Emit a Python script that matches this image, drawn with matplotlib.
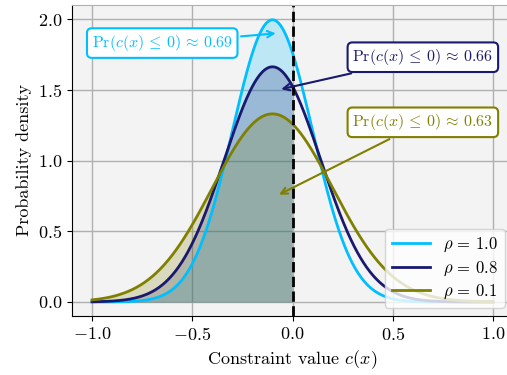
import numpy as np
import matplotlib
matplotlib.use("Agg")
import matplotlib.pyplot as plt

plt.rcParams["font.family"] = "serif"
plt.rcParams["font.serif"] = ["cmr10"]
plt.rcParams["mathtext.fontset"] = "cm"
plt.rcParams["axes.formatter.use_mathtext"] = True
plt.rcParams["font.size"] = 13

# distribution parameters
rho_labels = ["1.0", "0.8", "0.1"]
means = [-0.1, -0.1, -0.1]
stds = [0.2, 0.24, 0.3]
probs = ["0.69", "0.66", "0.63"]
colors = ["#00BFFF", "#191970", "#808000"]

# annotation positions (text, arrow tip) in data coords
text_pos = [(-0.65, 1.83), (0.65, 1.73), (0.65, 1.27)]
tip_pos = [(-0.07, 1.90), (-0.07, 1.50), (-0.08, 0.75)]

x = np.linspace(-1, 1, 500)

fig = plt.figure(figsize=(5.07, 3.75), dpi=100)
ax = fig.add_axes([0.142, 0.157, 0.87, 0.83])
ax.set_facecolor("#f3f3f3")

for rho, m, s, c in zip(rho_labels, means, stds, colors):
    pdf = np.exp(-0.5 * ((x - m) / s) ** 2) / (s * np.sqrt(2 * np.pi))
    ax.plot(x, pdf, color=c, lw=2, label=r"$\rho\,=\,%s$" % rho)
    ax.fill_between(x, 0, pdf, where=x <= 0, color=c, alpha=0.22, lw=0)

ax.axvline(0, color="black", ls="--", lw=2)

for p, tp, tip, c in zip(probs, text_pos, tip_pos, colors):
    ax.annotate(r"$\mathrm{Pr}(c(x)\,\leq\,0)\,\approx\,%s$" % p,
                xy=tip, xytext=tp, color=c, ha="center", va="center",
                fontsize=11.5,
                bbox=dict(boxstyle="round,pad=0.3", fc="white", ec=c, lw=1.5),
                arrowprops=dict(arrowstyle="->", color=c, lw=1.5))

ax.set_xlim(-1.1, 1.1)
ax.set_ylim(-0.1, 2.1)
ax.set_xticks([-1.0, -0.5, 0.0, 0.5, 1.0])
ax.set_yticks([0.0, 0.5, 1.0, 1.5, 2.0])
ax.grid(True, color="#b0b0b0", lw=1)
ax.set_axisbelow(True)
ax.spines["top"].set_color("#b0b0b0")
ax.spines["right"].set_color("#b0b0b0")
ax.set_xlabel(r"Constraint value $c(x)$")
ax.set_ylabel("Probability density")
ax.legend(loc="lower right", fontsize=12, framealpha=0.8,
          labelspacing=0.3, handlelength=2.3)

fig.savefig("out.png", dpi=100)
